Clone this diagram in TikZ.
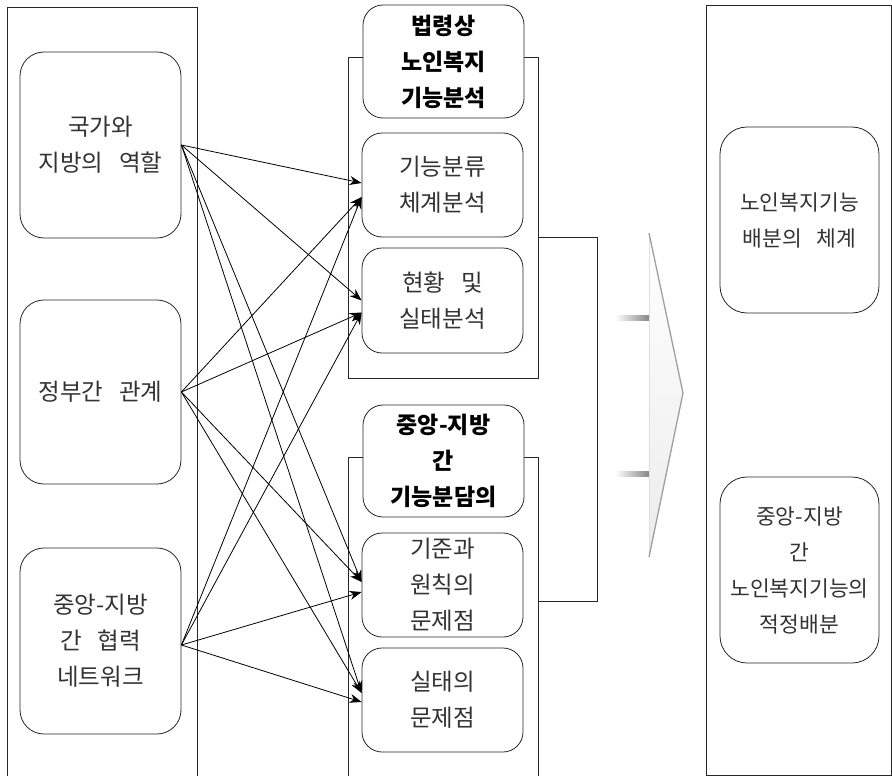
\documentclass[tikz,border=0pt]{standalone}
\usepackage{fontspec}
\setmainfont{Noto Sans CJK KR}[WordSpace=3]
\usetikzlibrary{arrows.meta}
\begin{document}
\begin{tikzpicture}[x=1pt,y=-1pt,
  frame/.style={draw=black!85, line width=0.8pt},
  box/.style={draw=black!85, line width=0.8pt, fill=white, rounded corners=24pt,
    minimum width=161pt, align=center, text=black!80, inner sep=0pt,
    font=\fontsize{23.5pt}{36pt}\selectfont},
  mbox/.style={box, rounded corners=20pt},
  head/.style={mbox, text=black, font=\fontsize{23pt}{36pt}\selectfont\bfseries},
  rbox/.style={box, rounded corners=27pt, minimum width=159pt,
    font=\fontsize{21.5pt}{36pt}\selectfont},
  arr/.style={draw=black, line width=0.8pt, -{Stealth[length=12pt,width=9pt]}}]
\useasboundingbox (0,0) rectangle (892,776);
\fill[white] (0,0) rectangle (892,776);
% outer frames
\draw[frame] (7,800) -- (7,7) -- (197,7) -- (197,800);
\draw[frame] (348,57) rectangle (538,378);
\draw[frame] (348,800) -- (348,457) -- (538,457) -- (538,800);
\draw[frame] (706,5) rectangle (891,775);
% left boxes
\node[box, minimum height=186pt] (L1) at (100.5,145) {국가와\\지방의 역할};
\node[box, minimum height=184pt] (L2) at (100.5,392) {정부간 관계};
\node[box, minimum height=186pt] (L3) at (100.5,641) {중앙-지방\\간 협력\\네트워크};
% middle boxes
\node[head, minimum height=113pt] (H1) at (443.5,61.5) {법령상\\노인복지\\기능분석};
\node[mbox, minimum height=104pt] (A) at (442.5,185) {기능분류\\체계분석};
\node[mbox, minimum height=105pt] (B) at (442.5,300.5) {현황 및\\실태분석};
\node[head, minimum height=112pt] (H2) at (443.5,461) {중앙-지방\\간\\기능분담의};
\node[mbox, minimum height=104pt] (C) at (442.5,585) {기준과\\원칙의\\문제점};
\node[mbox, minimum height=104pt] (D) at (442.5,700) {실태의\\문제점};
% right boxes
\node[rbox, minimum height=186pt] (R1) at (799.5,220) {노인복지기능\\배분의 체계};
\node[rbox, minimum height=186pt] (R2) at (799.5,570) {중앙-지방\\간\\노인복지기능의\\적정배분};
% bracket
\coordinate (b1) at (538,237);
\coordinate (b2) at (538,601);
\draw[frame] (b1) -- ++(59,0) |- (b2);
% arrows
\draw[arr] (L1.east) -- ([yshift=2pt]A.west);
\draw[arr] (L1.east) -- (B.west);
\draw[arr] (L1.east) -- ([yshift=3pt]C.west);
\draw[arr] (L1.east) -- ([yshift=7pt]D.west);
\draw[arr] (L2.east) -- ([yshift=-12pt]A.west);
\draw[arr] (L2.east) -- ([yshift=-12pt]B.west);
\draw[arr] (L2.east) -- ([yshift=3pt]C.west);
\draw[arr] (L2.east) -- ([yshift=7pt]D.west);
\draw[arr] ([yshift=-4pt]L3.east) -- ([yshift=-12pt]A.west);
\draw[arr] ([yshift=-4pt]L3.east) -- ([yshift=-12pt]B.west);
\draw[arr] ([yshift=-4pt]L3.east) -- ([yshift=-7pt]C.west);
\draw[arr] ([yshift=-4pt]L3.east) -- ([yshift=-2pt]D.west);
% big chevron arrow
\shade[left color=white, right color=gray!95] (615,315) rectangle (649,320);
\shade[left color=white, right color=gray!95] (615,471) rectangle (649,476);
\shade[top color=white, bottom color=gray!15, shading angle=0]
  (649,233) -- (683,393) -- (649,557) -- cycle;
\draw[gray!25, line width=1pt] (649,233) -- (649,557);
\draw[gray!75, line width=1.3pt, line join=round] (649,233) -- (683,393) -- (649,557);
\end{tikzpicture}
\end{document}
